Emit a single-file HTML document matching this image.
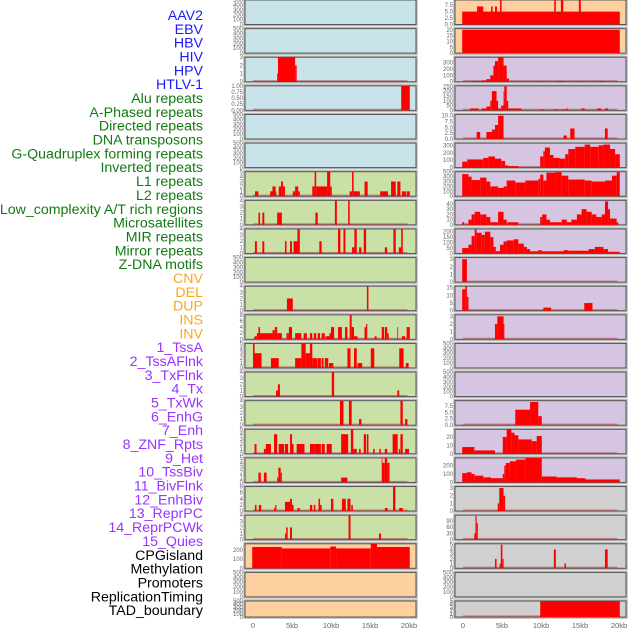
<!DOCTYPE html>
<html><head><meta charset="utf-8"><style>
html,body{margin:0;padding:0;background:#fff;width:630px;height:630px;overflow:hidden}
svg{display:block}
</style></head><body>
<svg id="chart" width="630" height="630" xmlns="http://www.w3.org/2000/svg" font-family="Liberation Sans, sans-serif"></svg>
<script>
// ---------- labels ----------
const labelNames = ["AAV2","EBV","HBV","HIV","HPV","HTLV-1","Alu repeats","A-Phased repeats","Directed repeats","DNA transposons","G-Quadruplex forming repeats","Inverted repeats","L1 repeats","L2 repeats","Low_complexity A/T rich regions","Microsatellites","MIR repeats","Mirror repeats","Z-DNA motifs","CNV","DEL","DUP","INS","INV","1_TssA","2_TssAFlnk","3_TxFlnk","4_Tx","5_TxWk","6_EnhG","7_Enh","8_ZNF_Rpts","9_Het","10_TssBiv","11_BivFlnk","12_EnhBiv","13_ReprPC","14_ReprPCWk","15_Quies","CPGisland","Methylation","Promoters","ReplicationTiming","TAD_boundary"];
const labelGroups = [0,0,0,0,0,0,1,1,1,1,1,1,1,1,1,1,1,1,1,2,2,2,2,2,3,3,3,3,3,3,3,3,3,3,3,3,3,3,3,4,4,4,4,4];
const groupColors = ["#1a1aff","#137a13","#ffa520","#9933ff","#000000"];
const xTickLabels = ["0","5kb","10kb","15kb","20kb"];
const xTickValues = [0,5,10,15,20];

// ---------- tick sets ----------
const tk500 = [0,100,200,300,400,500];
const tk3 = [0,1,2,3];
const tk4 = [0,1,2,3,4];
const tk5 = [0,1,2,3,4,5];
const tk8 = [0,2,4,6,8];
const tk1 = ["0.00","0.25","0.50","0.75","1.00"];

// ---------- left column segments [startKb, endKb, value] ----------
const segL02 = [[3.1,3.2,1],[3.2,5.4,3],[5.4,5.6,2]];
const segL03 = [[19.0,20.1,1]];
const segL06 = [[0.26,0.68,1],[2.2,2.5,1],[2.5,2.9,2],[2.9,3.0,1],[3.3,3.6,2],[3.6,3.85,3],[3.85,4.1,2],[5.1,5.4,1],[5.4,5.8,2],[5.8,6.0,1],[7.6,7.9,2],[7.9,8.1,5],[8.1,9.5,2],[9.5,9.9,5],[9.9,10.1,2],[12.4,12.7,1],[12.7,12.9,5],[12.9,13.7,1],[14.3,14.7,3],[16.3,17.3,1],[17.7,18.3,3],[18.5,18.9,3],[19.1,19.6,1],[19.7,20.1,1]];
const segL07 = [[0.7,0.9,2],[1.2,1.45,2],[3.1,3.7,2],[8.0,8.3,2],[10.5,10.75,4],[12.2,12.4,4]];
const segL08 = [[0.25,0.5,2],[1.2,1.45,2],[4.1,4.3,2],[4.75,5.0,2],[5.2,5.7,2],[5.7,6.0,4],[8.5,8.8,2],[10.9,11.2,4],[11.6,11.85,4],[12.7,13.0,1],[13.0,13.3,4],[13.6,13.9,1],[14.2,14.5,4],[16.9,17.2,1],[18.0,18.3,4],[18.7,19.0,1],[19.0,19.2,4]];
const segL10 = [[4.35,5.1,2],[14.6,14.8,4]];
const segL11 = [[0.2,0.5,1],[0.5,0.7,2],[0.7,0.9,4],[0.9,2.5,2],[2.5,2.8,3],[2.8,3.1,4],[3.1,3.7,2],[4.3,4.6,2],[4.6,5.0,4],[5.4,6.2,2],[6.5,6.9,2],[7.3,7.6,2],[7.8,8.1,2],[8.3,8.6,2],[8.8,9.2,2],[9.3,9.8,1],[9.8,10.0,2],[10.0,10.4,4],[10.9,11.4,4],[11.8,12.1,4],[12.4,12.65,8],[12.65,12.95,4],[12.95,13.4,1],[14.3,14.5,4],[14.5,14.65,5],[15.6,15.85,1],[16.5,16.8,4],[16.9,17.2,4],[17.2,17.4,2],[18.5,18.6,4],[19.1,19.5,1],[19.7,20.1,4]];
const segL12 = [[0,0.2,5],[0.2,1.1,3],[2.3,3.3,2],[5.4,6.2,2],[6.2,6.75,5],[6.75,7.3,3],[7.3,7.6,5],[7.6,8.2,2],[8.25,8.7,2],[8.8,9.05,2],[9.2,9.65,2],[9.75,10.3,1],[12.1,12.5,4],[12.95,13.3,4],[13.4,14.0,1],[15.1,15.55,4],[18.75,19.3,4],[19.6,19.95,1]];
const segL13 = [[2.95,3.2,1],[3.2,3.45,2],[10.1,10.4,4],[18.5,18.75,1]];
const segL14 = [[11.15,11.6,4],[12.3,12.65,4],[13.6,13.9,1],[18.9,19.2,4],[19.5,19.8,1]];
const segL15 = [[0.2,0.45,2],[1.4,1.65,1],[1.65,2.3,2],[2.7,3.1,4],[3.3,4.0,2],[4.1,4.5,2],[4.75,5.0,4],[5.0,5.2,2],[5.6,6.6,2],[7.3,7.85,2],[7.85,8.7,2],[8.8,9.2,2],[9.45,10.1,2],[11.3,12.2,4],[12.55,12.85,5],[12.85,13.3,1],[13.6,13.8,1],[14.2,14.5,4],[14.6,14.8,4],[15.4,15.6,1],[16.2,16.4,1],[16.9,17.2,1],[17.9,18.55,4],[18.7,18.85,1],[18.9,19.2,4],[19.5,20.0,1]];
const segL16 = [[0.7,1.0,2],[1.4,1.75,2],[3.1,3.25,1],[3.25,3.55,3],[3.55,3.7,2],[11.3,12.1,1],[16.5,16.6,5],[16.6,16.9,4],[16.9,17.2,5],[17.2,17.5,4]];
const segL17 = [[0.25,0.45,2],[0.75,1.05,2],[2.7,2.85,1],[2.85,3.0,2],[4.1,4.75,3],[4.75,5.0,4],[5.0,5.2,2],[5.7,6.0,1],[7.3,7.6,2],[7.8,8.0,2],[8.4,8.6,4],[8.6,8.8,2],[10.0,10.3,4],[11.4,11.9,4],[12.1,12.5,4],[12.6,12.8,2],[16.9,17.25,1],[17.95,18.25,8],[18.75,19.2,1]];
const segL18 = [[4.1,4.25,1],[4.25,4.45,2],[4.75,5.0,2],[12.25,12.5,4],[16.15,16.4,1]];
const segL19 = [[-0.1,3.7,230],[3.7,9.9,215],[9.9,10.65,235],[10.65,15.1,215],[15.1,15.9,265],[15.9,20.1,230]];

// ---------- right column segments ----------
const segR00 = [[-0.1,20.1,5],[1.8,2.6,7],[3.6,3.8,7],[4.1,4.35,7],[4.75,4.95,9.5],[11.7,11.9,9.5],[12.55,12.85,9.5],[14.85,15.1,9.5]];
const segR01 = [[-0.1,20.1,20]];
const segR02 = [[1.3,2.4,10],[2.4,3.0,20],[3.0,3.5,40],[3.5,3.9,100],[3.9,4.1,250],[4.1,4.5,320],[4.5,5.2,380],[5.2,5.6,250],[5.6,5.9,50],[9.9,10.1,10],[12.1,12.9,10],[15.0,15.3,10],[17.4,18.2,10]];
const segR03 = [[0.9,2.0,20],[2.4,3.0,20],[3.0,3.5,40],[3.5,3.7,100],[3.7,4.3,200],[4.3,4.5,100],[4.5,4.9,20],[4.9,5.2,50],[5.2,5.3,200],[5.3,5.6,250],[5.6,5.8,100],[5.8,7.5,20],[9.9,10.3,10],[11.7,12.2,10],[12.7,13.0,10],[13.2,13.4,20],[15.2,15.6,20],[17.2,17.7,20],[18.2,18.6,20]];
const segR04 = [[1.75,2.2,3],[3.0,3.7,3],[3.7,4.1,4],[4.1,4.5,6],[4.5,5.2,10],[12.9,13.3,1.5],[13.75,14.3,4.5],[18.2,18.55,4.5]];
const segR05 = [[-0.1,0.55,80],[0.55,2.6,110],[2.6,3.25,130],[3.25,4.1,150],[4.1,4.9,120],[4.9,5.4,90],[5.4,5.8,30],[5.8,7.1,20],[9.9,10.3,150],[10.3,10.5,220],[10.5,11.15,270],[11.15,11.6,170],[11.6,12.4,130],[12.4,13.1,120],[13.1,13.5,180],[13.5,14.4,250],[14.4,15.6,280],[15.6,16.3,310],[16.3,17.4,280],[17.4,18.0,300],[18.0,18.85,310],[18.85,19.5,250],[19.5,20.1,180]];
const segR06 = [[-0.1,0.7,450],[0.7,1.1,400],[1.1,2.2,330],[2.2,3.0,380],[3.0,3.5,300],[3.5,4.5,200],[4.5,5.2,170],[5.2,5.6,200],[5.6,6.7,320],[6.7,8.0,280],[8.0,9.65,320],[9.65,9.9,350],[9.9,10.3,440],[10.3,10.7,320],[10.7,11.8,480],[11.8,12.65,490],[12.65,13.5,420],[13.5,15.6,340],[15.6,16.5,320],[16.5,18.2,300],[18.2,19.1,320],[19.1,19.7,420],[19.7,20.1,490]];
const segR07 = [[-0.1,0.15,5],[0.7,1.1,10],[1.1,1.5,20],[1.5,2.2,25],[2.2,3.0,20],[3.0,3.5,15],[3.5,4.5,5],[4.5,5.2,25],[5.2,5.6,10],[5.7,7.1,5],[9.9,10.15,15],[10.15,10.7,20],[10.7,11.15,10],[11.15,12.65,5],[12.65,13.3,10],[13.3,13.9,5],[13.9,14.6,10],[14.6,15.2,20],[15.2,15.85,30],[15.85,16.5,25],[16.5,17.1,20],[17.1,17.8,15],[17.8,18.2,20],[18.2,18.6,45],[18.6,18.85,30],[18.85,19.7,12],[19.7,19.9,5]];
const segR08 = [[-0.1,0.7,50],[0.7,1.1,80],[1.1,1.5,160],[1.5,1.75,220],[1.75,2.4,190],[2.4,2.8,170],[2.8,3.5,200],[3.5,3.9,150],[3.9,4.2,60],[4.2,4.75,20],[4.75,5.2,80],[5.2,5.6,110],[5.6,6.5,120],[6.5,7.1,130],[7.1,7.8,90],[7.8,8.2,60],[8.2,8.6,40],[8.6,9.65,20],[9.65,10.1,30],[10.1,12.9,20],[12.9,13.5,30],[13.5,16.1,25],[16.1,16.9,40],[16.9,18.0,60],[18.0,18.6,40],[18.6,20.1,15]];
const segR09 = [[-0.1,0.5,3]];
const segR10 = [[-0.1,0.3,14],[0.3,0.5,16],[0.5,0.7,9],[10.3,11.3,2],[15.55,16.6,5]];
const segR11 = [[4.1,4.4,2],[4.4,5.2,3],[5.2,5.3,2]];
const segR14 = [[6.7,8.6,6],[8.6,9.65,9],[9.65,10.1,3.5]];
const segR15 = [[-0.1,1.45,8],[1.45,4.1,4],[5.1,5.6,20],[5.6,6.2,29],[6.2,6.6,25],[6.6,7.1,22],[7.1,8.8,17],[8.8,9.45,15],[9.45,10.1,21]];
const segR16 = [[-0.1,0.5,110],[0.5,1.1,120],[1.1,1.5,100],[1.5,2.6,80],[2.6,3.6,60],[3.6,5.1,50],[5.1,5.3,100],[5.3,5.5,200],[5.5,6.0,230],[6.0,6.8,250],[6.8,8.0,270],[8.0,10.1,290],[10.1,12.0,70],[12.0,14.6,60],[14.6,15.7,50],[15.7,20.1,35]];
const segR17 = [[4.45,4.65,1],[4.65,5.2,3],[5.2,5.4,2]];
const segR18 = [[1.45,1.6,30],[1.6,1.75,115],[1.75,1.9,80]];
const segR19 = [[4.1,4.3,2],[4.7,4.85,1],[4.85,5.05,5],[5.05,5.2,2],[11.65,11.9,4],[13.0,13.2,1],[18.2,18.55,4]];
const segR21 = [[9.9,20.1,5]];

const bgBlue="#c8e3ea", bgGreen="#c9e1a7", bgPeach="#ffd09f", bgLav="#d5c5e1", bgGrey="#d0d0d0";
const leftPanels = [
 {bg:bgBlue,ymax:500,ticks:tk500,segs:null},
 {bg:bgBlue,ymax:500,ticks:tk500,segs:null},
 {bg:bgBlue,ymax:3,ticks:tk3,segs:segL02},
 {bg:bgBlue,ymax:1,ticks:tk1,segs:segL03},
 {bg:bgBlue,ymax:500,ticks:tk500,segs:null},
 {bg:bgBlue,ymax:500,ticks:tk500,segs:null},
 {bg:bgGreen,ymax:5,ticks:tk5,segs:segL06},
 {bg:bgGreen,ymax:4,ticks:tk4,segs:segL07},
 {bg:bgGreen,ymax:4,ticks:tk4,segs:segL08},
 {bg:bgGreen,ymax:500,ticks:tk500,segs:null},
 {bg:bgGreen,ymax:4,ticks:tk4,segs:segL10},
 {bg:bgGreen,ymax:8,ticks:tk8,segs:segL11},
 {bg:bgGreen,ymax:5,ticks:tk5,segs:segL12},
 {bg:bgGreen,ymax:4,ticks:tk4,segs:segL13},
 {bg:bgGreen,ymax:4,ticks:tk4,segs:segL14},
 {bg:bgGreen,ymax:5,ticks:tk5,segs:segL15},
 {bg:bgGreen,ymax:5,ticks:tk5,segs:segL16},
 {bg:bgGreen,ymax:8,ticks:tk8,segs:segL17},
 {bg:bgGreen,ymax:4,ticks:tk4,segs:segL18},
 {bg:bgPeach,ymax:265,ticks:[0,100,200],segs:segL19},
 {bg:bgPeach,ymax:500,ticks:tk500,segs:null},
 {bg:bgPeach,ymax:500,ticks:tk500,segs:null}
];
const rightPanels = [
 {bg:bgPeach,ymax:9.5,ticks:["0.0","2.5","5.0","7.5"],segs:segR00},
 {bg:bgPeach,ymax:21,ticks:[0,5,10,15,20],segs:segR01},
 {bg:bgLav,ymax:380,ticks:[0,100,200,300],segs:segR02},
 {bg:bgLav,ymax:255,ticks:[0,50,100,150,200,250],segs:segR03},
 {bg:bgLav,ymax:10.5,ticks:["0.0","2.5","5.0","7.5","10.0"],segs:segR04},
 {bg:bgLav,ymax:330,ticks:[0,100,200,300],segs:segR05},
 {bg:bgLav,ymax:500,ticks:tk500,segs:segR06},
 {bg:bgLav,ymax:47,ticks:[0,10,20,30,40],segs:segR07},
 {bg:bgLav,ymax:225,ticks:[0,50,100,150,200],segs:segR08},
 {bg:bgLav,ymax:3.2,ticks:tk3,segs:segR09},
 {bg:bgLav,ymax:16,ticks:[0,5,10,15],segs:segR10},
 {bg:bgLav,ymax:3.2,ticks:tk3,segs:segR11},
 {bg:bgLav,ymax:500,ticks:tk500,segs:null},
 {bg:bgLav,ymax:500,ticks:tk500,segs:null},
 {bg:bgLav,ymax:9.5,ticks:["0.0","2.5","5.0","7.5"],segs:segR14},
 {bg:bgLav,ymax:29,ticks:[0,10,20],segs:segR15},
 {bg:bgLav,ymax:290,ticks:[0,100,200],segs:segR16},
 {bg:bgGrey,ymax:3.2,ticks:tk3,segs:segR17},
 {bg:bgGrey,ymax:118,ticks:[0,30,60,90],segs:segR18},
 {bg:bgGrey,ymax:5.2,ticks:tk5,segs:segR19},
 {bg:bgGrey,ymax:500,ticks:tk500,segs:null},
 {bg:bgGrey,ymax:5,ticks:tk5,segs:segR21}
];

const NS="http://www.w3.org/2000/svg";
const svg=document.getElementById('chart');
function mk(tag,attrs,parent){const e=document.createElementNS(NS,tag);for(const k in attrs)e.setAttribute(k,attrs[k]);(parent||svg).appendChild(e);return e;}

// labels
labelNames.forEach((t,i)=>{
  const e=mk('text',{x:203,y:20+i*13.84,'text-anchor':'end','font-size':'14.2',fill:groupColors[labelGroups[i]]});
  e.textContent=t;
  
  
});

function rowTop(i){return i*28.62;}
function drawPanel(p,i,x0,side){
  const top=rowTop(i), h=(i===21?16:24.5), w=171;
  const g=mk('g',{});
  
  
  mk('rect',{x:x0-1,y:top-1,width:w+2,height:h+2,fill:'none',stroke:'#bbb','stroke-width':1.5},g);
  mk('rect',{x:x0,y:top,width:w,height:h,fill:p.bg,stroke:'#555','stroke-width':1},g);
  const xs=kb=>x0+8+kb*7.8;
  const ys=v=>top+h-(v/p.ymax)*h;
  p.ticks.forEach((t,k)=>{
    const v=parseFloat(t);
    const yy=ys(v);
    const tx=mk('text',{x:x0-2,y:Math.max(yy+2,top+2),'text-anchor':'end','font-size':'6',fill:'#666'},g);
    tx.textContent=t;
    
    
  });
  if(p.segs){
    mk('line',{x1:xs(0),x2:xs(19.8),y1:top+h-0.8,y2:top+h-0.8,stroke:'rgba(170,60,60,0.55)','stroke-width':1.6},g);
    p.segs.forEach(s=>{
      const y=Math.max(ys(s[2]),top);
      const r=mk('rect',{x:xs(s[0]),y:y,width:Math.max(xs(s[1])-xs(s[0]),0.8),height:top+h-y,fill:'#ff0000'},g);
      
      
    });
  }
}
leftPanels.forEach((p,i)=>drawPanel(p,i,245,'left'));
rightPanels.forEach((p,i)=>drawPanel(p,i,455,'right'));

// x axes
[245,455].forEach((x0,ci)=>{
  xTickValues.forEach((v,k)=>{
    const t=mk('text',{x:x0+8+v*7.8,y:628,'text-anchor':'middle','font-size':'7.5',fill:'#666'});
    t.textContent=xTickLabels[k];
    
    
  });
});
</script>
</body></html>
